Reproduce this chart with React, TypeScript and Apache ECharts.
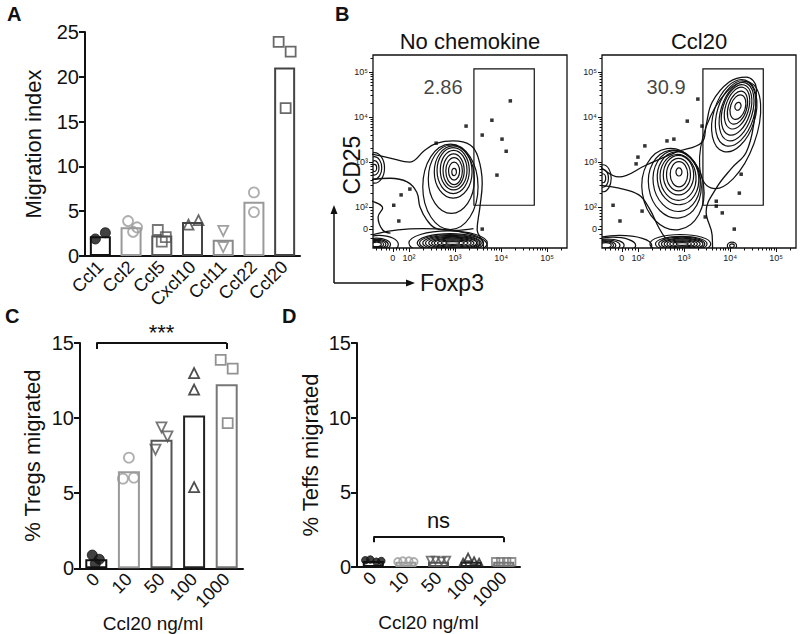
import React, { useEffect, useRef } from 'react';
import * as echarts from 'echarts';

// ---------------- Panel A ----------------
const chemokines = ['Ccl1', 'Ccl2', 'Ccl5', 'Cxcl10', 'Ccl11', 'Ccl22', 'Ccl20'];
const migrationMean = [2.2, 3.2, 2.3, 3.8, 1.8, 6.05, 21.05];
const migrationPoints = [
  [1.9, 2.6],
  [3.9, 3.2, 2.7],
  [2.9, 2.1, 1.6],
  [3.5, 4.0],
  [2.8, 1.0],
  [7.1, 4.9],
  [23.9, 22.8, 16.5],
];

// ---------------- Panels C & D ----------------
const doses = ['0', '10', '50', '100', '1000'];
const tregMean = [0.6, 6.46, 8.56, 10.17, 12.26];
const tregPoints = [
  [0.88, 0.6, 0.31],
  [7.37, 5.97, 6.04],
  [9.38, 8.78, 7.9],
  [13.0, 11.9, 5.4],
  [13.87, 13.3, 9.66],
];
const teffMean = [0.4, 0.35, 0.35, 0.35, 0.35];
const teffPoints = [
  [0.45, 0.5, 0.35, 0.4],
  [0.35, 0.4, 0.4, 0.35],
  [0.45, 0.45, 0.4, 0.45],
  [0.3, 0.65, 0.4, 0.3],
  [0.35, 0.35, 0.35, 0.35],
];
const tregSignif = '***';
const teffSignif = 'ns';

// ---------------- Panel B (flow, axis units: decades) ----------------
const flowTickLabels = ['0', '10²', '10³', '10⁴', '10⁵'];
const flowXTicks = [1.65, 2, 3, 4, 5];
const flowYTicks = [1.51, 2, 3, 4, 5];
const flowLinearMinor = [1.3, 1.4, 1.5, 1.58, 1.72, 1.8, 1.87, 1.94];
const flowXRange = [1.22, 5.43];
const flowYRange = [1.09, 5.38];
const gateBox = [3.41, 2.04, 4.72, 5.07];
const gatePercent = ['2.86', '30.9'];
const gateLabelAt = [[2.74, 4.67], [2.61, 4.67]];

const noChemDots = [
  [4.2, 4.36], [3.8, 3.93], [3.24, 3.8], [3.59, 3.6], [4.02, 3.51], [4.11, 3.24],
  [3.91, 2.71], [2.59, 3.42], [2.02, 2.4], [1.83, 2.27], [1.67, 2.04], [1.78, 1.69], [3.59, 1.51],
];
const ccl20Dots = [
  [3.3, 4.4], [3.07, 3.91], [3.39, 3.8], [2.78, 3.51], [2.63, 3.47], [2.15, 3.36],
  [2.0, 3.11], [1.96, 2.96], [4.24, 2.73], [4.2, 2.31], [2.09, 1.91], [1.61, 1.69],
  [1.46, 2.04], [3.7, 2.13], [3.7, 2.02], [3.83, 1.87], [3.46, 1.78], [4.09, 1.51],
];

// contour rings: [centre x, centre y, radius x, radius y, tilt (rad)]
const noChemRings = [
  [2.98, 2.78, 0.05, 0.08, 0], [2.98, 2.8, 0.12, 0.2, 0], [2.98, 2.8, 0.18, 0.3, 0],
  [2.97, 2.81, 0.23, 0.37, 0], [2.97, 2.82, 0.29, 0.44, 0], [2.96, 2.81, 0.35, 0.51, 0],
  [2.96, 2.78, 0.41, 0.58, 0], [2.92, 2.62, 0.5, 0.76, 0], [2.9, 2.45, 0.6, 0.95, 0],
  [1.25, 2.87, 0.05, 0.08, 0], [1.25, 2.87, 0.1, 0.16, 0], [1.25, 2.87, 0.16, 0.25, 0], [1.25, 2.87, 0.22, 0.34, 0],
  [2.95, 1.2, 0.15, 0.03, 0], [2.95, 1.2, 0.25, 0.05, 0], [2.95, 1.2, 0.33, 0.07, 0],
  [2.95, 1.2, 0.4, 0.09, 0], [2.95, 1.2, 0.46, 0.11, 0], [2.95, 1.2, 0.52, 0.13, 0],
  [2.93, 1.2, 0.57, 0.15, 0], [2.92, 1.2, 0.62, 0.17, 0], [2.9, 1.2, 0.67, 0.19, 0],
  [2.9, 1.2, 0.72, 0.21, 0], [2.85, 1.2, 0.85, 0.27, 0],
  [1.3, 1.17, 0.1, 0.05, 0], [1.3, 1.17, 0.15, 0.07, 0], [1.3, 1.17, 0.2, 0.09, 0],
  [1.3, 1.17, 0.25, 0.11, 0], [1.3, 1.17, 0.3, 0.14, 0], [1.35, 1.17, 0.42, 0.2, 0],
  [2.3, 1.14, 1.4, 0.38, 0],
];
const ccl20Rings = [
  [4.17, 4.24, 0.065, 0.09, -0.3], [4.17, 4.22, 0.16, 0.28, -0.3], [4.16, 4.21, 0.2, 0.38, -0.3],
  [4.15, 4.2, 0.25, 0.48, -0.3], [4.14, 4.16, 0.3, 0.58, -0.3], [4.14, 4.12, 0.34, 0.67, -0.3],
  [4.12, 4.08, 0.4, 0.75, -0.3], [4.09, 4.03, 0.45, 0.83, -0.3], [4.0, 3.6, 0.55, 1.25, -0.35],
  [2.89, 2.78, 0.065, 0.09, 0], [2.89, 2.73, 0.19, 0.28, 0], [2.88, 2.72, 0.26, 0.36, 0],
  [2.88, 2.71, 0.33, 0.44, 0], [2.87, 2.66, 0.39, 0.51, 0.08], [2.87, 2.64, 0.45, 0.59, 0.1],
  [2.84, 2.58, 0.51, 0.68, 0.12], [2.8, 2.51, 0.57, 0.76, 0.15], [2.76, 2.4, 0.67, 0.91, 0.15],
  [1.24, 2.64, 0.06, 0.1, 0], [1.24, 2.64, 0.12, 0.2, 0], [1.24, 2.64, 0.18, 0.3, 0],
  [2.96, 1.18, 0.13, 0.03, 0], [2.96, 1.18, 0.2, 0.05, 0], [2.96, 1.18, 0.27, 0.07, 0],
  [2.96, 1.18, 0.33, 0.09, 0], [2.96, 1.18, 0.39, 0.11, 0], [2.96, 1.18, 0.45, 0.13, 0],
  [2.95, 1.18, 0.5, 0.15, 0], [2.94, 1.18, 0.56, 0.17, 0], [2.92, 1.18, 0.66, 0.21, 0],
  [1.3, 1.15, 0.12, 0.06, 0], [1.3, 1.15, 0.17, 0.08, 0], [1.3, 1.15, 0.22, 0.1, 0],
  [1.33, 1.15, 0.28, 0.12, 0], [1.35, 1.15, 0.35, 0.14, 0],
  [1.45, 1.15, 0.5, 0.18, 0], [1.6, 1.15, 0.7, 0.22, 0],
  [4.04, 1.14, 0.05, 0.04, 0], [4.04, 1.14, 0.1, 0.08, 0],
];
// free contour outlines
const noChemOutlines = [
  [[1.1, 3.2], [1.59, 3.09], [2.02, 3.0], [2.35, 3.27], [2.61, 3.42], [2.96, 3.47], [3.33, 3.38],
    [3.5, 3.11], [3.59, 2.53], [3.54, 2.0], [3.48, 1.49], [3.61, 1.2], [3.62, 1.0]],
  [[1.1, 2.6], [1.59, 2.64], [1.96, 2.56], [2.17, 2.33], [2.24, 2.0], [2.39, 1.71], [2.6, 1.52], [3.0, 1.48], [3.4, 1.52]],
  [[1.1, 2.16], [1.43, 1.98], [1.33, 1.78], [1.43, 1.49], [1.6, 1.42]],
];
const ccl20Outlines = [
  [[1.1, 2.98], [1.59, 2.67], [2.17, 2.93], [2.83, 3.22], [3.39, 3.44], [3.48, 3.82], [3.61, 4.33],
    [3.98, 4.78], [4.35, 4.89], [4.57, 4.64], [4.52, 3.89], [4.35, 3.22], [4.04, 2.87], [3.7, 2.42],
    [3.48, 1.89], [3.61, 1.38], [3.62, 1.0]],
  [[1.1, 2.49], [1.59, 2.42], [2.02, 2.27], [2.24, 1.98], [2.46, 1.53], [2.6, 1.3]],
];

// ---------------- styles ----------------
const aStyles = [
  { color: '#111', symbol: 'circle', filled: true, rotate: 0, offsets: [-5, 5] },
  { color: '#9a9a9a', symbol: 'circle', filled: false, rotate: 0, offsets: [-3, 6, 2] },
  { color: '#555', symbol: 'rect', filled: false, rotate: 0, offsets: [-4, 4, 0] },
  { color: '#444', symbol: 'triangle', filled: false, rotate: 0, offsets: [-4, 6] },
  { color: '#8a8a8a', symbol: 'triangle', filled: false, rotate: 180, offsets: [0, 0] },
  { color: '#9a9a9a', symbol: 'circle', filled: false, rotate: 0, offsets: [0, 0] },
  { color: '#444', symbol: 'rect', filled: false, rotate: 0, offsets: [-6, 6, 1] },
];
const cStyles = [
  { color: '#111', symbol: 'circle', filled: true, rotate: 0, offsets: [-4, 3, -1] },
  { color: '#9a9a9a', symbol: 'circle', filled: false, rotate: 0, offsets: [0, -6, 5] },
  { color: '#555', symbol: 'triangle', filled: false, rotate: 180, offsets: [0, 6, -6] },
  { color: '#222', symbol: 'triangle', filled: false, rotate: 0, offsets: [0, 0, 0] },
  { color: '#777', symbol: 'rect', filled: false, rotate: 0, offsets: [-6, 6, 1] },
];
const dOffsets = [-8, -3, 3, 8];

const FONT = 'Liberation Sans, Arial, Helvetica, sans-serif';

function barData(means: number[], styles: any[]) {
  return means.map((v, i) => ({
    value: v,
    itemStyle: { color: '#fff', borderColor: styles[i].color, borderWidth: 2 },
  }));
}

function pointData(points: number[][], styles: any[], size: number, offsets?: number[]) {
  const out: any[] = [];
  points.forEach((vals, i) => {
    const st = styles[i];
    vals.forEach((v, j) => {
      const off = offsets ? offsets[j] : st.offsets[j] || 0;
      out.push({
        value: [i, v],
        symbol: st.symbol,
        symbolRotate: st.rotate,
        symbolSize: size,
        symbolOffset: [off, 0],
        itemStyle: {
          color: st.filled ? st.color : 'rgba(0,0,0,0)',
          borderColor: st.color,
          borderWidth: st.filled ? 1 : 1.8,
        },
      });
    });
  });
  return out;
}

function logMinor(max: number) {
  const out: number[] = [];
  for (let n = 2; n <= 5; n++) {
    for (let k = 2; k <= 9; k++) {
      const v = n + Math.log10(k);
      if (v < max) out.push(v);
    }
  }
  return out;
}

const ellipseRender = (_params: any, api: any) => {
  const c = api.coord([api.value(0), api.value(1)]);
  const s = api.size([api.value(2), api.value(3)]);
  return {
    type: 'ellipse',
    x: c[0],
    y: c[1],
    rotation: api.value(4),
    shape: { cx: 0, cy: 0, rx: Math.abs(s[0]), ry: Math.abs(s[1]) },
    style: { fill: 'none', stroke: '#111', lineWidth: 1.2 },
  };
};

function flowAxes(gridIndex: number, ticks: number[], range: number[], isX: boolean) {
  const major = {
    type: 'value',
    gridIndex,
    min: range[0],
    max: range[1],
    position: isX ? 'bottom' : 'left',
    splitLine: { show: false },
    axisLine: { show: false },
    axisTick: { show: true, customValues: ticks, length: 4, lineStyle: { color: '#111', width: 1 } },
    axisLabel: {
      show: true,
      customValues: ticks,
      formatter: (v: number) => {
        const i = ticks.findIndex((t) => Math.abs(t - v) < 1e-6);
        return i >= 0 ? flowTickLabels[i] : '';
      },
      fontSize: 9,
      color: '#222',
      fontFamily: FONT,
      margin: 5,
    },
  };
  const minor = {
    type: 'value',
    gridIndex,
    min: range[0],
    max: range[1],
    position: isX ? 'bottom' : 'left',
    splitLine: { show: false },
    axisLine: { show: false },
    axisTick: {
      show: true,
      customValues: flowLinearMinor.concat(logMinor(range[1])),
      length: 2.5,
      lineStyle: { color: '#111', width: 1 },
    },
    axisLabel: { show: false },
  };
  return [major, minor];
}

function flowSeries(xi: number, dots: number[][], rings: number[][], outlines: number[][][], pi: number) {
  const s: any[] = [];
  s.push({
    type: 'custom',
    xAxisIndex: xi,
    yAxisIndex: xi,
    renderItem: ellipseRender,
    data: rings,
    clip: true,
    silent: true,
  });
  outlines.forEach((o) => {
    s.push({
      type: 'line',
      xAxisIndex: xi,
      yAxisIndex: xi,
      data: o,
      smooth: 0.4,
      symbol: 'none',
      lineStyle: { color: '#111', width: 1.3 },
      clip: true,
      silent: true,
    });
  });
  s.push({
    type: 'scatter',
    xAxisIndex: xi,
    yAxisIndex: xi,
    data: dots,
    symbol: 'rect',
    symbolSize: 3.5,
    itemStyle: { color: '#000' },
    silent: true,
    markArea: {
      silent: true,
      itemStyle: { color: 'rgba(0,0,0,0)', borderColor: '#111', borderWidth: 1.2 },
      data: [[{ coord: [gateBox[0], gateBox[3]] }, { coord: [gateBox[2], gateBox[1]] }]],
    },
  });
  s.push({
    type: 'scatter',
    xAxisIndex: xi,
    yAxisIndex: xi,
    data: [gateLabelAt[pi]],
    symbolSize: 1,
    itemStyle: { color: 'rgba(0,0,0,0)' },
    silent: true,
    label: {
      show: true,
      position: 'inside',
      formatter: gatePercent[pi],
      fontSize: 20,
      color: '#111',
      fontFamily: FONT,
    },
  });
  return s;
}

function catXAxis(gridIndex: number, data: string[], name: string, namePad: number[]) {
  return {
    type: 'category',
    gridIndex,
    data,
    axisLine: { lineStyle: { color: '#111', width: 2 } },
    axisTick: { show: false },
    axisLabel: { rotate: 45, fontSize: 18, color: '#111', fontFamily: FONT, margin: 8, interval: 0 },
    name,
    nameLocation: 'middle',
    nameGap: 41,
    nameTextStyle: { fontSize: 19, color: '#111', fontFamily: FONT, padding: namePad },
  };
}

function valYAxis(gridIndex: number, max: number, name: string, gap: number) {
  return {
    type: 'value',
    gridIndex,
    min: 0,
    max,
    interval: 5,
    splitLine: { show: false },
    axisLine: { show: true, lineStyle: { color: '#111', width: 2 } },
    axisTick: { show: true, length: 6, lineStyle: { color: '#111', width: 2 } },
    axisLabel: { fontSize: 20, color: '#111', fontFamily: FONT, margin: 6 },
    name,
    nameLocation: 'middle',
    nameGap: gap,
    nameTextStyle: { fontSize: 22, color: '#111', fontFamily: FONT },
  };
}

function bracket(yTop: number, yTick: number, text: string, dist: number, size: number) {
  return {
    silent: true,
    symbol: 'none',
    lineStyle: { color: '#111', width: 2, type: 'solid' },
    label: { show: false },
    data: [
      [
        {
          coord: [0, yTop],
          label: { show: true, formatter: text, position: 'insideMiddleTop', distance: dist, fontSize: size, color: '#111', fontFamily: FONT },
        },
        { coord: [4, yTop] },
      ],
      [{ coord: [0, yTop] }, { coord: [0, yTick] }],
      [{ coord: [4, yTop] }, { coord: [4, yTick] }],
    ],
  };
}

export default function App() {
  const ref = useRef<HTMLDivElement>(null);
  useEffect(() => {
    document.body.style.margin = '0';
    if (!ref.current) return;
    const chart = echarts.init(ref.current, undefined, { renderer: 'svg' });
    const [b1x, b1xm] = flowAxes(1, flowXTicks, flowXRange, true);
    const [b2x, b2xm] = flowAxes(2, flowXTicks, flowXRange, true);
    const [b1y, b1ym] = flowAxes(1, flowYTicks, flowYRange, false);
    const [b2y, b2ym] = flowAxes(2, flowYTicks, flowYRange, false);

    const option: any = {
      animation: false,
      backgroundColor: '#fff',
      textStyle: { fontFamily: FONT },
      grid: [
        { left: 85, top: 32, width: 215, height: 224 },
        { left: 373, top: 55, width: 194, height: 193, show: true, borderColor: '#111', borderWidth: 1.3, backgroundColor: 'rgba(0,0,0,0)' },
        { left: 602, top: 55, width: 194, height: 193, show: true, borderColor: '#111', borderWidth: 1.3, backgroundColor: 'rgba(0,0,0,0)' },
        { left: 80, top: 343, width: 163, height: 226 },
        { left: 357, top: 343, width: 163, height: 224 },
      ],
      xAxis: [
        catXAxis(0, chemokines, '', [0, 0, 0, 0]),
        b1x, b1xm, b2x, b2xm,
        catXAxis(3, doses, 'Ccl20 ng/ml', [0, 17, 0, 0]),
        catXAxis(4, doses, 'Ccl20 ng/ml', [0, 20, 0, 0]),
      ],
      yAxis: [
        valYAxis(0, 25, 'Migration index', 41),
        b1y, b1ym, b2y, b2ym,
        valYAxis(3, 15, '% Tregs migrated', 37),
        valYAxis(4, 15, '% Teffs migrated', 36),
      ],
      series: [
        { type: 'bar', xAxisIndex: 0, yAxisIndex: 0, barWidth: 21, data: barData(migrationMean, aStyles), silent: true },
        { type: 'scatter', xAxisIndex: 0, yAxisIndex: 0, data: pointData(migrationPoints, aStyles, 10), silent: true, z: 3 },
        ...flowSeries(1, noChemDots, noChemRings, noChemOutlines, 0),
        ...flowSeries(3, ccl20Dots, ccl20Rings, ccl20Outlines, 1),
        {
          type: 'bar', xAxisIndex: 5, yAxisIndex: 5, barWidth: 22, data: barData(tregMean, cStyles), silent: true,
          markLine: bracket(15, 14.6, tregSignif, 0, 22),
        },
        { type: 'scatter', xAxisIndex: 5, yAxisIndex: 5, data: pointData(tregPoints, cStyles, 10), silent: true, z: 3 },
        {
          type: 'bar', xAxisIndex: 6, yAxisIndex: 6, barWidth: 21, data: barData(teffMean, cStyles), silent: true,
          markLine: bracket(2, 1.65, teffSignif, 6, 22),
        },
        { type: 'scatter', xAxisIndex: 6, yAxisIndex: 6, data: pointData(teffPoints, cStyles, 7.5, dOffsets), silent: true, z: 3 },
      ],
      graphic: [
        { type: 'text', left: 7, top: 4, style: { text: 'A', font: `bold 20px ${FONT}`, fill: '#111' } },
        { type: 'text', left: 335, top: 4, style: { text: 'B', font: `bold 20px ${FONT}`, fill: '#111' } },
        { type: 'text', left: 5, top: 306, style: { text: 'C', font: `bold 20px ${FONT}`, fill: '#111' } },
        { type: 'text', left: 282, top: 306, style: { text: 'D', font: `bold 20px ${FONT}`, fill: '#111' } },
        { type: 'text', x: 470, y: 41, style: { text: 'No chemokine', font: `22px ${FONT}`, fill: '#111', align: 'center', verticalAlign: 'middle' } },
        { type: 'text', x: 699, y: 41, style: { text: 'Ccl20', font: `22px ${FONT}`, fill: '#111', align: 'center', verticalAlign: 'middle' } },
        { type: 'text', x: 352, y: 165, rotation: Math.PI / 2, style: { text: 'CD25', font: `23px ${FONT}`, fill: '#111', align: 'center', verticalAlign: 'middle' } },
        { type: 'text', x: 420, y: 283, style: { text: 'Foxp3', font: `23px ${FONT}`, fill: '#111', align: 'left', verticalAlign: 'middle' } },
        { type: 'line', shape: { x1: 334, y1: 283, x2: 334, y2: 212 }, style: { stroke: '#111', lineWidth: 1.5 } },
        { type: 'line', shape: { x1: 334, y1: 283, x2: 408, y2: 283 }, style: { stroke: '#111', lineWidth: 1.5 } },
        { type: 'polygon', shape: { points: [[334, 205], [330.5, 214], [337.5, 214]] }, style: { fill: '#111' } },
        { type: 'polygon', shape: { points: [[415, 283], [406, 279.5], [406, 286.5]] }, style: { fill: '#111' } },
      ],
    };
    chart.setOption(option);
    return () => chart.dispose();
  }, []);
  return <div ref={ref} style={{ width: 800, height: 634 }} />;
}
